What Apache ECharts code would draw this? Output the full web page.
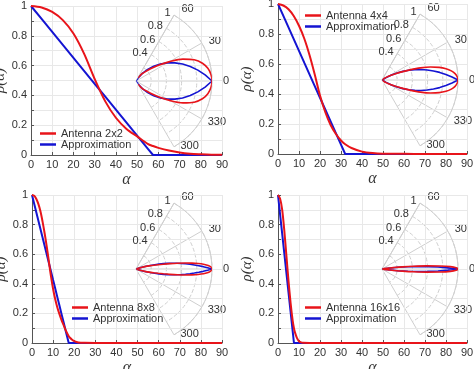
<!DOCTYPE html>
<html><head><meta charset="utf-8">
<script src="https://cdn.jsdelivr.net/npm/echarts@6/dist/echarts.min.js"></script>
<style>html,body{margin:0;padding:0;background:#fff}#c{width:474px;height:369px}</style>
</head><body><div id="c"></div>
<script>
// ---- data ----
const alpha1 = [0,5,10,15,20,25,30,35,40,45,50,55,57.5,60,65,70,75,80,85,90];
const red1   = [1,0.99,0.96,0.905,0.815,0.68,0.51,0.36,0.25,0.175,0.125,0.075,0.06,0.048,0.03,0.017,0.009,0.005,0.002,0.001];
const blue1  = [1,0.913,0.826,0.739,0.652,0.565,0.478,0.391,0.304,0.217,0.13,0.043,0,0,0,0,0,0,0,0];

const alpha2 = [0,2.5,5,7.5,10,12.5,15,17.5,20,22.5,25,27.5,30,32,35,40,45,50,60,70,80,90];
const red2   = [1,0.99,0.965,0.92,0.855,0.77,0.66,0.53,0.39,0.28,0.195,0.135,0.09,0.065,0.04,0.016,0.006,0.002,0.001,0,0,0];
const blue2  = [1,0.922,0.844,0.766,0.688,0.609,0.531,0.453,0.375,0.297,0.219,0.141,0.063,0,0,0,0,0,0,0,0,0];

const alpha3 = [0,1,2,3,4,5,6,7,8,9,10,11,12,13,14,15,16,17.4,18,19,20,22,25,30,40,50,60,70,80,90];
const red3   = [1,0.995,0.975,0.94,0.89,0.82,0.74,0.65,0.55,0.45,0.365,0.295,0.24,0.195,0.155,0.12,0.085,0.045,0.035,0.022,0.013,0.004,0.001,0,0,0,0,0,0,0];
const blue3  = [1,0.943,0.885,0.828,0.770,0.713,0.655,0.598,0.540,0.483,0.425,0.368,0.310,0.253,0.195,0.138,0.080,0,0,0,0,0,0,0,0,0,0,0,0,0];

const alpha4 = [0,1,2,3,4,5,6,7,7.6,8,9,10,11,12,15,20,30,40,50,60,70,80,90];
const red4   = [1,0.975,0.9,0.76,0.59,0.42,0.27,0.15,0.1,0.075,0.035,0.012,0.004,0.001,0,0,0,0,0,0,0,0,0];
const blue4  = [1,0.868,0.737,0.605,0.474,0.342,0.211,0.079,0,0,0,0,0,0,0,0,0,0,0,0,0,0,0];

const seriesNames = ['Antenna 2x2','Antenna 4x4','Antenna 8x8','Antenna 16x16'];
const approxName = 'Approximation';
const xTicks = [0,10,20,30,40,50,60,70,80,90];
const yTickLabels = ['0','0.2','0.4','0.6','0.8','1'];
const radiusTickLabels = ['0.4','0.6','0.8','1'];
const angleTickValues = [-60,-30,0,30,60];
const angleTickLabels = ['60','30','0','330','300'];

const panels = [
  {a: alpha1, r: red1, b: blue1},
  {a: alpha2, r: red2, b: blue2},
  {a: alpha3, r: red3, b: blue3},
  {a: alpha4, r: red4, b: blue4}
];

// ---- layout ----
const grids = [
  {left:31, top:6, width:191, height:149},
  {left:278, top:4, width:189, height:150},
  {left:32, top:195, width:190, height:148},
  {left:278, top:195, width:189, height:148}
];
const polarCenters = [[136,81],[382,80],[136,269],[382,269]];
const legendPos = [{left:38, top:127},{left:303, top:9},{left:70, top:301},{left:303, top:301}];
// per-label nudges for angle labels (padding: top,right,bottom,left)
const angleLabelPad = [[0,0,7,11],[0,0,0,13],[0,0,0,18],[1,0,0,12],[0,0,0,10]];

const RED = '#e8141a', BLUE = '#1414d2';
const TXT = '#333';
const SANS = 'Liberation Sans, Arial, sans-serif';
const SERIF = 'Liberation Serif, Times New Roman, serif';

const angleRich = {};
angleLabelPad.forEach((pd,k) => {
  angleRich['a'+k] = {padding:pd, color:TXT, fontSize:11, fontFamily:SANS};
});

const option = {
  animation:false,
  backgroundColor:'#fff',
  grid: grids.map(g => Object.assign({containLabel:false, outerBoundsMode:'none'}, g)),
  xAxis: grids.map((g,i) => ({
    gridIndex:i, type:'value', min:xTicks[0], max:xTicks[xTicks.length-1], interval:10,
    axisLine:{show:true, lineStyle:{color:'#555', width:1}},
    axisTick:{show:true, inside:true, length:3, lineStyle:{color:'#555'}},
    axisLabel:{color:TXT, fontSize:11, fontFamily:SANS, margin:4},
    splitLine:{show:true, lineStyle:{color:'#e8e8e8', width:1}},
    name:'α', nameLocation:'middle', nameGap:17,
    nameTextStyle:{fontFamily:SERIF, fontStyle:'italic', fontSize:16, color:TXT}
  })),
  yAxis: grids.map((g,i) => ({
    gridIndex:i, type:'value', min:0, max:1, interval:0.1,
    axisLine:{show:true, lineStyle:{color:'#555', width:1}},
    axisTick:{show:true, inside:true, length:3, lineStyle:{color:'#555'}},
    axisLabel:{color:TXT, fontSize:11, fontFamily:SANS, margin:4,
      formatter: v => { const k = Math.round(v*10); return k%2===0 ? yTickLabels[k/2] : ''; }},
    splitLine:{show:true, lineStyle:{color:'#e8e8e8', width:1}},
    name:'ρ(α)', nameLocation:'middle', nameGap:19, nameRotate:90,
    nameTextStyle:{fontFamily:SERIF, fontStyle:'italic', fontSize:15, color:TXT}
  })),
  polar: polarCenters.map(c => ({center:c, radius:76})),
  angleAxis: polarCenters.map((c,i) => ({
    polarIndex:i, type:'value', min:-60, max:60, interval:30,
    startAngle:60, endAngle:-60, clockwise:true,
    axisLine:{show:true, lineStyle:{color:'#cfcfcf'}},
    axisTick:{show:false},
    axisLabel:{color:TXT, fontSize:11, fontFamily:SANS, margin:-7,
      rich:angleRich,
      formatter: v => {
        const k = angleTickValues.indexOf(Math.round(v));
        return k < 0 ? '' : '{a'+k+'|'+angleTickLabels[k]+'}';
      }},
    splitLine:{show:true, lineStyle:{color:'#cfcfcf', width:1}}
  })),
  radiusAxis: polarCenters.map((c,i) => ({
    polarIndex:i, type:'value', min:0, max:1, interval:0.2,
    axisLine:{show:true, lineStyle:{color:'#cfcfcf'}},
    axisTick:{show:false},
    axisLabel:{color:TXT, fontSize:11, fontFamily:SANS, margin:4,
      formatter: v => { const k = Math.round(v*5); return k>=2 ? radiusTickLabels[k-2] : ''; }},
    splitLine:{show:true, lineStyle:{color:'#cfcfcf', type:'dashed', width:1}}
  })),
  legend: legendPos.map((p,i) => ({
    left:p.left, top:p.top, orient:'vertical', data:[seriesNames[i], approxName],
    icon:'rect', itemWidth:16, itemHeight:2.5, itemGap:0,
    padding:[1,2,1,2],
    textStyle:{color:TXT, fontSize:11, fontFamily:SANS, lineHeight:11},
    selectedMode:false
  })),
  series: []
};

panels.forEach((p,i) => {
  const cartBlue = p.a.map((x,k) => [x, p.b[k]]);
  const cartRed = p.a.map((x,k) => [x, p.r[k]]);
  const polarPts = vals => {
    const pos = [], neg = [];
    p.a.forEach((x,k) => { if (x <= 60) { pos.push([vals[k], x]); } });
    for (let k = pos.length-1; k >= 0; k--) neg.push([pos[k][0], -pos[k][1]]);
    return neg.concat(pos.slice(1));
  };
  option.series.push({
    name:approxName, type:'line', xAxisIndex:i, yAxisIndex:i, data:cartBlue,
    showSymbol:false, lineStyle:{color:BLUE, width:2}, itemStyle:{color:BLUE}, z:3
  });
  option.series.push({
    name:seriesNames[i], type:'line', xAxisIndex:i, yAxisIndex:i, data:cartRed,
    showSymbol:false, smooth:0.3, lineStyle:{color:RED, width:2}, itemStyle:{color:RED}, z:4
  });
  option.series.push({
    name:approxName, type:'line', coordinateSystem:'polar', polarIndex:i, data:polarPts(p.b),
    showSymbol:false, lineStyle:{color:BLUE, width:1.6}, itemStyle:{color:BLUE}, z:3
  });
  option.series.push({
    name:seriesNames[i], type:'line', coordinateSystem:'polar', polarIndex:i, data:polarPts(p.r),
    showSymbol:false, smooth:0.3, lineStyle:{color:RED, width:1.6}, itemStyle:{color:RED}, z:4
  });
});

const chart = echarts.init(document.getElementById('c'), null, {renderer:'canvas'});
chart.setOption(option);
</script></body></html>
